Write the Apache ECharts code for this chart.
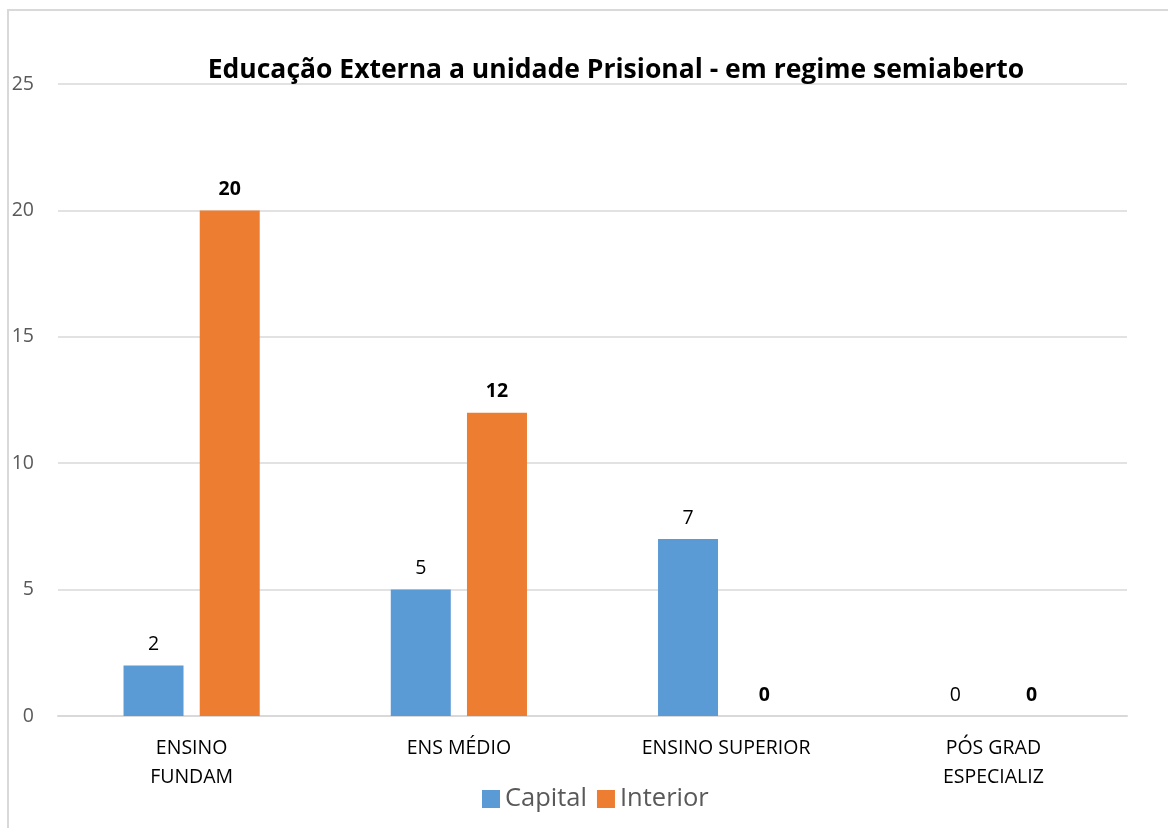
<!DOCTYPE html>
<html>
<head>
<meta charset="utf-8">
<script src="https://cdn.jsdelivr.net/npm/echarts@6/dist/echarts.min.js"></script>
<style>
  body { margin: 0; background: #fff; }
  #frame { position: absolute; left: 7px; top: 9px; width: 1168px; height: 828px;
           border-left: 2px solid #d9d9d9; border-top: 2px solid #d9d9d9; }
  #chart { position: absolute; left: 0; top: 0; width: 1168px; height: 828px; }
</style>
</head>
<body>
<div id="frame"></div>
<div id="chart"></div>
<script>
var categories = ['ENSINO\nFUNDAM', 'ENS MÉDIO', 'ENSINO SUPERIOR', 'PÓS GRAD\nESPECIALIZ'];
var capital = [2, 5, 7, 0];
var interior = [20, 12, 0, 0];
var yTicks = { min: 0, max: 25, interval: 5 };

var font = '"Open Sans", "Noto Sans", sans-serif';
var chart = echarts.init(document.getElementById('chart'));
chart.setOption({
  animation: false,
  textStyle: { fontFamily: font },
  title: {
    text: 'Educação Externa a unidade Prisional - em regime semiaberto',
    left: 611,
    textAlign: 'center',
    top: 52,
    textStyle: { fontSize: 26.5, fontWeight: 'bold', color: '#000', fontFamily: font }
  },
  legend: {
    data: ['Capital', 'Interior'],
    left: 477,
    top: 781,
    icon: 'rect',
    itemWidth: 18,
    itemHeight: 18,
    itemGap: 10,
    itemTextGap: 8,
    textStyle: { fontSize: 25.5, color: '#595959', fontFamily: font }
  },
  grid: { left: 58, right: 41, top: 84, bottom: 112, containLabel: false },
  xAxis: {
    type: 'category',
    data: categories,
    axisLine: { show: true, lineStyle: { color: '#d9d9d9', width: 2 } },
    axisTick: { show: false },
    axisLabel: { fontSize: 19.5, color: '#000', margin: 18, lineHeight: 29, fontFamily: font }
  },
  yAxis: {
    type: 'value',
    min: yTicks.min,
    max: yTicks.max,
    interval: yTicks.interval,
    axisLine: { show: false },
    axisTick: { show: false },
    splitLine: { lineStyle: { color: '#d9d9d9', width: 1.5 } },
    axisLabel: { fontSize: 19.5, color: '#595959', margin: 24, fontFamily: font }
  },
  series: [
    {
      name: 'Capital',
      type: 'bar',
      data: capital,
      barWidth: 60,
      barGap: '27%',
      itemStyle: { color: '#5b9bd5' },
      label: { show: true, position: 'top', distance: 11, fontSize: 19.5, color: '#000', fontFamily: font }
    },
    {
      name: 'Interior',
      type: 'bar',
      data: interior,
      barWidth: 60,
      itemStyle: { color: '#ed7d31' },
      label: { show: true, position: 'top', distance: 11, fontSize: 19.5, fontWeight: 'bold', color: '#000', fontFamily: font }
    }
  ]
});
</script>
</body>
</html>
